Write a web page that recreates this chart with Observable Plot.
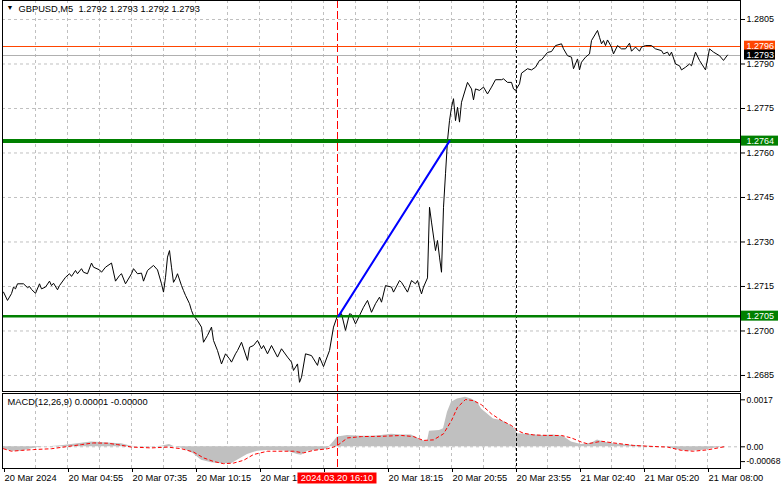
<!DOCTYPE html>
<html><head><meta charset="utf-8">
<script src="https://cdn.jsdelivr.net/npm/d3@7"></script>
<script src="https://cdn.jsdelivr.net/npm/@observablehq/plot@0.6"></script>
<style>
body{margin:0;background:#fff;}
#chart{position:relative;width:781px;height:489px;overflow:hidden;background:#fff;}
#chart svg{display:block;}
</style></head><body><div id="chart"></div>
<script>
// ---------- data ----------
const symbolTitle = "GBPUSD,M5\u00a0\u00a01.2792 1.2793 1.2792 1.2793";
const macdTitle = "MACD(12,26,9) 0.00001 -0.00000";

const barIdx = [0,2,4,5,6,7,10,12,13,14,16,18,19,21,23,24,25,27,28,31,33,34,36,37,39,40,42,44,45,48,49,51,54,56,58,59,61,64,65,67,69,70,72,75,77,79,80,81,82,83,84,85,86,87,89,90,91,93,94,95,97,99,100,102,104,105,107,109,111,113,114,116,117,119,122,123,125,127,129,130,132,134,137,139,142,144,145,147,148,149,151,154,155,157,158,160,163,165,167,
169,171,173,174,176,178,180,182,184,186,188,189,191,194,195,198,199,202,204,206,207,209,210,212,213,214,216,217,218,219,220,221,222,223,224,225,226,227,228,229,232,234,235,236,238,240,242,244,246,249,250,252,254,255,256,258,259,262,264,266,268,269,272,274,276,279,280,282,284,285,287,288,289,291,293,294,297,298,299,300,301,302,304,305,307,309,311,313,314,316,318,319,321,324,326,329,330,332,333,334,336,338,339,341,343,344,346,348,351,353,355,358,360,362];
const closes = [1.27131,1.27103,1.27126,1.27148,1.27142,1.27159,1.27159,1.27146,1.27150,1.27140,1.27127,1.27159,1.27142,1.27148,1.27168,1.27153,1.27161,1.27139,1.27153,1.27181,1.27193,1.27184,1.27204,1.27193,1.27210,1.27198,1.27193,1.27229,1.27215,1.27206,1.27198,1.27215,1.27229,1.27168,1.27187,1.27193,1.27159,1.27193,1.27210,1.27193,1.27195,1.27168,1.27204,1.27221,1.27206,1.27159,1.27131,1.27181,1.27249,1.27271,1.27215,1.27164,1.27176,1.27193,1.27153,1.27136,1.27120,1.27092,1.27069,1.27052,1.27035,1.27013,1.26962,1.26985,1.27013,1.26968,1.26934,1.26889,1.26923,1.26906,1.26895,1.26923,1.26934,1.26962,1.26901,1.26945,1.26951,1.26968,1.26940,1.26951,1.26923,1.26951,1.26912,1.26940,1.26912,1.26895,1.26867,1.26889,1.26827,1.26844,1.26923,1.26917,1.26906,1.26884,1.26912,1.26880,1.26934,1.27013,1.27052,
1.27058,1.27002,1.27058,1.27056,1.27024,1.27052,1.27080,1.27103,1.27063,1.27092,1.27114,1.27097,1.27153,1.27148,1.27131,1.27170,1.27164,1.27131,1.27170,1.27159,1.27170,1.27125,1.27148,1.27179,1.27417,1.27367,1.27271,1.27305,1.27249,1.27198,1.27417,1.27530,1.27642,1.27709,1.27754,1.27783,1.27709,1.27754,1.27704,1.27771,1.27838,1.27816,1.27779,1.27816,1.27811,1.27822,1.27799,1.27822,1.27847,1.27847,1.27850,1.27838,1.27838,1.27816,1.27811,1.27833,1.27869,1.27884,1.27880,1.27889,1.27912,1.27914,1.27939,1.27942,1.27962,1.27968,1.27951,1.27928,1.27923,1.27884,1.27917,1.27880,1.27906,1.27923,1.27934,1.27979,1.28013,1.27990,1.27968,1.27979,1.27962,1.27981,1.27957,1.27934,1.27962,1.27951,1.27951,1.27970,1.27943,1.27957,1.27943,1.27957,1.27962,1.27962,1.27951,1.27945,1.27934,1.27940,1.27928,1.27940,1.27900,1.27894,1.27880,1.27889,1.27900,1.27894,1.27940,1.27912,1.27880,1.27951,1.27940,1.27928,1.27912,1.27930];

const histIdx = [0,4,9,14,19,24,29,34,39,44,49,54,59,64,69,74,79,83,85,90,95,99,104,109,114,117,122,127,132,137,142,147,149,152,157,162,165,167,172,179,185,189,194,199,204,207,209,212,213,218,220,222,224,227,231,234,237,239,242,245,249,252,255,257,262,269,275,280,284,289,294,297,300,305,315,325,332,337,342,349,354,359,362];
const histVal = [-0.00007,-0.00016,-0.00016,-0.00007,-0.00001,0.00001,0.00004,0.00008,0.00013,0.00017,0.00016,0.00013,0.00011,0.00002,-0.00001,-0.00001,0.00002,0.00008,0.00002,-0.00007,-0.00025,-0.00049,-0.00058,-0.00061,-0.00061,-0.00049,-0.00028,-0.00016,-0.00013,-0.00013,-0.00016,-0.00028,-0.00031,-0.00016,-0.00013,-0.00007,0.00017,0.00035,0.00041,0.00038,0.00038,0.00041,0.00045,0.00043,0.00043,0.00032,0.00023,0.00020,0.00056,0.00059,0.00065,0.00125,0.00161,0.00173,0.00179,0.00173,0.00161,0.00137,0.00119,0.00101,0.00095,0.00083,0.00071,0.00047,0.00045,0.00041,0.00043,0.00037,0.00017,0.00008,0.00013,0.00025,0.00017,0.00011,0.00005,0.00001,-0.00001,-0.00011,-0.00016,-0.00013,-0.00007,-0.00001,0.00000];

const sigIdx = [0,4,9,15,24,32,39,45,52,57,64,74,82,89,95,100,105,110,115,120,125,132,140,145,150,155,162,165,167,172,179,189,199,205,210,215,220,224,227,231,235,239,244,249,254,257,260,265,272,279,284,289,292,299,305,315,322,332,339,345,352,361];
const sigVal = [-0.00007,-0.00016,-0.00013,-0.00010,-0.00007,0.00001,0.00008,0.00014,0.00013,0.00008,-0.00001,-0.00004,-0.00001,-0.00007,-0.00019,-0.00040,-0.00053,-0.00061,-0.00059,-0.00049,-0.00028,-0.00016,-0.00016,-0.00016,-0.00022,-0.00013,-0.00007,-0.00001,0.00005,0.00032,0.00037,0.00038,0.00041,0.00037,0.00023,0.00025,0.00047,0.00095,0.00143,0.00171,0.00167,0.00152,0.00119,0.00095,0.00077,0.00059,0.00049,0.00043,0.00041,0.00041,0.00032,0.00017,0.00011,0.00020,0.00014,0.00005,0.00002,-0.00001,-0.00013,-0.00016,-0.00011,0.00001];

const timeTickIdx = [0,32,64,96,128,160,192,224,256,288,320,352];
// the 160 label sits fully under the crosshair time badge in the reference
const timeTickLabels = ["20 Mar 2024","20 Mar 04:55","20 Mar 07:35","20 Mar 10:15","20 Mar 12:55","","20 Mar 18:15","20 Mar 20:55","20 Mar 23:55","21 Mar 02:40","21 Mar 05:20","21 Mar 08:00"];
const gridIdx = [16,32,48,64,80,96,112,128,144,160,176,192,208,224,240,256,272,288,304,320,336,352];
const priceTicks = [1.2685,1.2700,1.2715,1.2730,1.2745,1.2760,1.2775,1.2790,1.2805];
const macdTicksUpper = [0.0017, 0];
const macdTicksUpperLabels = ["0.0017","0.00"];
const macdTicksLower = [-0.00068];
const macdTicksLowerLabels = ["-0.00068"];

const upperLevel = 1.2764;
const lowerLevel = 1.2705;
const trendIdx = [167.5, 223];
const trendPrice = [1.2705, 1.2764];
const askPrice = 1.2796;
const bidPrice = 1.2793;
const crossIdx = 167;
const crossLabel = "2024.03.20 16:10";
const sessionIdx = 256.5;

// ---------- tables ----------
const priceRows = barIdx.map((x, i) => ({x, y: closes[i]}));
const histRows = histIdx.map((x, i) => ({x, y: histVal[i]}));
const sigRows = sigIdx.map((x, i) => ({x, y: sigVal[i]}));
const trendRows = trendIdx.map((x, i) => ({x, y: trendPrice[i]}));

const FONT = '"Liberation Sans", Arial, sans-serif';
const style = {fontFamily: FONT, fontSize: "9.3px", color: "black", background: "white", overflow: "visible"};
const xDomain = [-0.5, 368.5];
const grid = {stroke: "#c0c0c0", strokeOpacity: 1, strokeDasharray: "3,3"};

const topChart = Plot.plot({
  width: 781, height: 392,
  marginLeft: 2, marginRight: 41, marginTop: 0, marginBottom: 1,
  style,
  x: {domain: xDomain, axis: null},
  y: {domain: [1.26796, 1.28114]},
  marks: [
    Plot.gridX(gridIdx, grid),
    Plot.gridY(priceTicks, grid),
    Plot.ruleX([crossIdx], {stroke: "#ff0000", strokeDasharray: "8,3"}),
    Plot.ruleX([sessionIdx], {stroke: "black", strokeDasharray: "3,2"}),
    Plot.ruleY([askPrice], {stroke: "#ff4500", strokeWidth: 1, shapeRendering: "crispEdges"}),
    Plot.ruleY([bidPrice], {stroke: "#b0b0b0", strokeWidth: 1, shapeRendering: "crispEdges"}),
    Plot.line(priceRows, {x: "x", y: "y", stroke: "black", strokeWidth: 1}),
    Plot.ruleY([upperLevel], {stroke: "#008000", strokeWidth: 4}),
    Plot.ruleY([lowerLevel], {stroke: "#008000", strokeWidth: 2.5}),
    Plot.line(trendRows, {x: "x", y: "y", stroke: "#0000ff", strokeWidth: 2}),
    Plot.frame({stroke: "black"}),
    Plot.axisY({anchor: "right", label: null, ticks: priceTicks, tickSize: 4, tickPadding: 2, fontSize: 9, tickFormat: d => d.toFixed(4), stroke: "black", fill: "black"}),
    Plot.text(["\u25BC"], {frameAnchor: "top-left", text: d => d, dx: 4, dy: 7, fontSize: 7, textAnchor: "start", lineAnchor: "middle", fill: "black"}),
    Plot.text([symbolTitle], {frameAnchor: "top-left", text: d => d, dx: 16, dy: 5, textAnchor: "start", lineAnchor: "top", fill: "black"})
  ]
});

const bottomChart = Plot.plot({
  width: 781, height: 97,
  marginLeft: 2, marginRight: 41, marginTop: 1, marginBottom: 21,
  style,
  x: {domain: xDomain},
  y: {domain: [-0.000785, 0.001928]},
  marks: [
    Plot.gridX(gridIdx, grid),
    Plot.ruleY([0], grid),
    Plot.areaY(histRows, {x: "x", y: "y", fill: "#c0c0c0"}),
    Plot.line(sigRows, {x: "x", y: "y", stroke: "#ff0000", strokeWidth: 1, strokeDasharray: "3,3"}),
    Plot.ruleX([crossIdx], {stroke: "#ff0000", strokeDasharray: "8,3"}),
    Plot.ruleX([sessionIdx], {stroke: "black", strokeDasharray: "3,2"}),
    Plot.frame({stroke: "black"}),
    Plot.axisY({anchor: "right", label: null, ticks: macdTicksUpper, tickSize: 4, tickPadding: 2, fontSize: 8.6, tickFormat: d => macdTicksUpperLabels[macdTicksUpper.indexOf(d)], stroke: "black", fill: "black"}),
    Plot.axisY({anchor: "right", label: null, ticks: macdTicksLower, tickSize: 4, tickPadding: 2, fontSize: 8.6, dy: -4, tickFormat: d => macdTicksLowerLabels[macdTicksLower.indexOf(d)], stroke: "black", fill: "black"}),
    Plot.axisX({anchor: "bottom", label: null, ticks: timeTickIdx, tickSize: 4, tickPadding: 2, textAnchor: "start", dx: 1, tickFormat: d => timeTickLabels[timeTickIdx.indexOf(d)], stroke: "black", fill: "black"}),
    Plot.text([macdTitle], {frameAnchor: "top-left", text: d => d, dx: 5, dy: 5, textAnchor: "start", lineAnchor: "top", fill: "black"})
  ]
});

function applyScale(chart, name, v) {
  const s = chart.scale(name);
  if (s && typeof s.apply === "function") return s.apply(v);
  return d3.scaleLinear(s.domain, s.range)(v);
}

// price badges on the right axis
const badges = [
  {v: askPrice, bg: "#ff4500", x: 744, w: 31},
  {v: bidPrice, bg: "#000000", x: 744, w: 31},
  {v: upperLevel, bg: "#008000", x: 741, w: 37},
  {v: lowerLevel, bg: "#008000", x: 741, w: 37}
];
const gTop = d3.select(topChart).append("g").attr("font-family", FONT).attr("font-size", "9px").attr("text-anchor", "start");
for (const b of badges) {
  const cy = applyScale(topChart, "y", b.v);
  gTop.append("rect").attr("x", b.x).attr("y", cy - 5).attr("width", b.w).attr("height", 10).attr("fill", b.bg);
  gTop.append("text").attr("x", 746.5).attr("y", cy + 3.2).attr("text-anchor", "start").attr("fill", "white").text(b.v.toFixed(4));
}

// crosshair time badge
const cx = applyScale(bottomChart, "x", crossIdx);
const gBot = d3.select(bottomChart).append("g").attr("font-family", FONT).attr("font-size", "9.3px");
gBot.append("rect").attr("x", cx - 39.5).attr("y", 80.5).attr("width", 79).attr("height", 11).attr("fill", "#ff0000");
gBot.append("text").attr("x", cx).attr("y", 89.3).attr("text-anchor", "middle").attr("fill", "white").text(crossLabel);

const root = document.getElementById("chart");
root.appendChild(topChart);
root.appendChild(bottomChart);
</script></body></html>
